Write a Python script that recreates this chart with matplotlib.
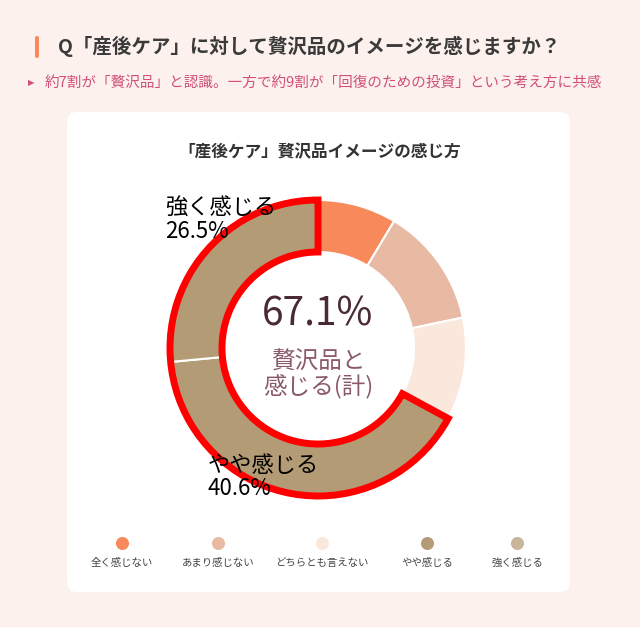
import matplotlib
matplotlib.use("Agg")
import matplotlib.pyplot as plt
from matplotlib.patches import FancyBboxPatch, Wedge, Rectangle

plt.rcParams['font.family'] = ['Noto Sans CJK JP', 'DejaVu Sans']

categories = ["全く感じない", "あまり感じない", "どちらとも言えない", "やや感じる", "強く感じる"]
values = [8.6, 13.1, 11.2, 40.6, 26.5]
colors = ["#F7895A", "#E8B9A3", "#FBE8DC", "#B39B75", "#C8B59A"]
pie_colors = ["#F7895A", "#E8B9A3", "#FBE8DC", "#B39B75", "#B39B75"]

W, H = 640, 627
fig = plt.figure(figsize=(6.4, 6.27), dpi=100)
fig.patch.set_facecolor("#FCF1EC")
ax = fig.add_axes([0, 0, 1, 1])
Y = lambda py: H - py

ax.add_patch(FancyBboxPatch((67, Y(592)), 503, 480, boxstyle="round,pad=0,rounding_size=10",
                            facecolor="white", edgecolor="none"))
ax.add_patch(FancyBboxPatch((35, Y(58)), 4, 22, boxstyle="round,pad=0,rounding_size=2",
                            facecolor="#F7895A", edgecolor="none"))
ax.text(58, Y(46), "Q「産後ケア」に対して贅沢品のイメージを感じますか？", fontsize=14, fontweight="bold",
        color="#3a3a3a", va="center")
ax.text(28, Y(83), "▶", fontsize=6, color="#D0507A", va="center", family=["DejaVu Sans"])
ax.text(45, Y(83), "約7割が「贅沢品」と認識。一方で約9割が「回復のための投資」という考え方に共感",
        fontsize=10.5, color="#D0507A", style="italic", va="center")
ax.text(320, Y(152), "「産後ケア」贅沢品イメージの感じ方", fontsize=12, fontweight="bold",
        color="#333333", ha="center", va="center")

cx, cy, R, w = 318, Y(348), 148, 52
ax.pie(values, colors=pie_colors, startangle=90, counterclock=False, center=(cx, cy), radius=R,
       wedgeprops=dict(width=w, edgecolor="white", linewidth=1.5))
frac = (values[3] + values[4]) / sum(values)
ax.add_patch(Wedge((cx, cy), R, 90, 90 + frac * 360, width=w, fill=False, edgecolor="#FF0000", linewidth=5))

ax.text(cx, Y(315), f"{values[3]+values[4]:.1f}%", fontsize=28, color="#4A2A35", ha="center", va="center")
ax.text(cx, Y(375), "贅沢品と\n感じる(計)", fontsize=17, color="#8A5A6A", ha="center", va="center", linespacing=1.1)
ax.text(165, Y(220), f"{categories[4]}\n{values[4]}%", fontsize=16, color="black", ha="left", va="center", linespacing=1.05)
ax.text(208, Y(477), f"{categories[3]}\n{values[3]}%", fontsize=16, color="black", ha="left", va="center", linespacing=1.05)

lx = [122, 218, 322, 427, 517]
for x, c, lab in zip(lx, colors, categories):
    ax.scatter([x], [Y(543)], s=70, color=c, zorder=3)
    ax.text(x, Y(563), lab, fontsize=7.5, color="#444444", ha="center", va="center")

ax.set_xlim(0, W)
ax.set_ylim(0, H)
ax.set_aspect("auto")
ax.axis("off")
fig.savefig("out.png", dpi=100, facecolor=fig.get_facecolor())
